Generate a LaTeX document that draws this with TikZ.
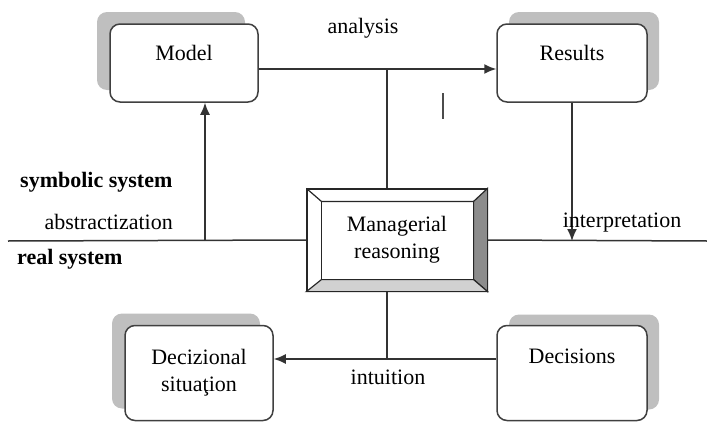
\documentclass[tikz,border=0pt]{standalone}
\usepackage{fontspec}
\setmainfont{Liberation Serif}
\usetikzlibrary{calc,shadows,arrows.meta}
\tikzset{
	box/.style={draw=black!75, line width=1.5pt, fill=white, rounded corners=10pt, minimum width=148pt, minimum height=78pt, align=center},
	tag/.style={inner sep=0pt},
	boldtag/.style={inner sep=0pt, font=\fontsize{22}{27}\selectfont\bfseries},
	link/.style={line width=1.5pt, draw=black!80},
	arr/.style={link, -{Latex[length=12pt,width=10pt]}}
}

\begin{document}
\begin{tikzpicture}[x=1pt, y=-1pt, font=\fontsize{22}{27}\selectfont]
			%%%%% START %%%%%
			\useasboundingbox (0,0) rectangle (707,423);
			
			\node[box, text height=15pt, text depth=21pt, general shadow={fill=black!25, shadow xshift=-13pt, shadow yshift=12pt}] (model) at (184, 63) {Model};
			\node[box, minimum width=150pt, text height=15pt, text depth=21pt, general shadow={fill=black!25, shadow xshift=12pt, shadow yshift=12pt}] (results) at (572, 63) {Results};
			\node[box, minimum width=150pt, minimum height=95pt, text height=15pt, text depth=34pt, general shadow={fill=black!25, shadow xshift=12pt, shadow yshift=11pt}] (decis) at (572, 373) {Decisions};
			\node[box, minimum height=95pt, general shadow={fill=black!25, shadow xshift=-13pt, shadow yshift=12pt}] (decsit) at (199, 373) {Decizional\\situaţion};
			
			% managerial box with bevel
			\node[draw=black!85, line width=1.2pt, fill=white, minimum width=180pt, minimum height=102pt] (mr) at (397, 240) {};
			\coordinate (inw) at ($(mr.north west)+(15,13)$);
			\coordinate (ine) at ($(mr.north east)+(-14,13)$);
			\coordinate (ise) at ($(mr.south east)+(-14,-12)$);
			\coordinate (isw) at ($(mr.south west)+(15,-12)$);
			\draw[line width=1.2pt, draw=black!85, fill=black!45] (mr.north east) -- (ine) -- (ise) -- (mr.south east) -- cycle;
			\draw[line width=1.2pt, draw=black!85, fill=black!18] (mr.south west) -- (isw) -- (ise) -- (mr.south east) -- cycle;
			\draw[line width=1.2pt, draw=black!85] (mr.north west) -- (inw) -- (ine);
			\draw[line width=1.2pt, draw=black!85] (inw) -- (isw);
			\node[align=center] (mrtext) at (mr.center) {Managerial\\reasoning};
			
			% border between the two systems
			\coordinate (lend) at (8, 241);
			\coordinate (rend) at (707, 241);
			\draw[link] (lend) -- (mr.west);
			\draw[link] (mr.east) -- (rend);
			
			\coordinate (ajoin) at (387, 69);
			\coordinate (bjoin) at (387, 359);
			\draw[arr] (model.east |- ajoin) -- (results.west |- ajoin);
			\draw[link] (ajoin) -- (mr.north -| ajoin);
			\draw[arr] ([xshift=21pt]model.south |- lend) -- ([xshift=21pt]model.south);
			\draw[arr] (results.south) -- (results.south |- rend);
			\draw[arr] (decis.west |- bjoin) -- (decsit.east |- bjoin);
			\draw[link] (mr.south -| bjoin) -- (bjoin);
			
			\draw[line width=2pt, color=black!70] (443, 93) -- (443, 119);
			
			\node[tag, anchor=base] (analysis) at (363, 33) {analysis};
			\node[boldtag, anchor=base west] (symb) at (20, 187) {symbolic system};
			\node[tag, anchor=base east] (abstr) at (173, 229) {abstractization};
			\node[boldtag, anchor=base west] (real) at (17, 264) {real system};
			\node[tag, anchor=base] (interp) at (622, 227) {interpretation};
			\node[tag, anchor=base] (intuit) at (388, 384) {intuition};
			%%%%% END %%%%%
\end{tikzpicture}
\end{document}
